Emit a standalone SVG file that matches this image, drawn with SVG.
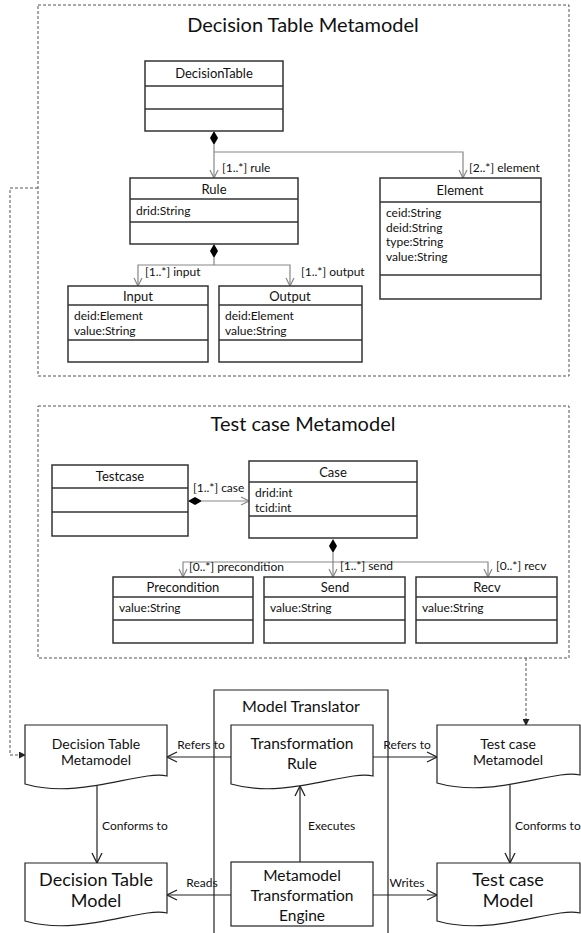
<svg xmlns="http://www.w3.org/2000/svg" width="581" height="933" viewBox="0 0 581 933">
<style>
text{font-family:Lato,"Noto Sans","Liberation Sans",sans-serif;fill:#111}
.frame{fill:none;stroke:#555;stroke-width:1;stroke-dasharray:3 2}
.title{font-size:20px;text-anchor:middle}
.cls{fill:#fff;stroke:#333;stroke-width:1.5}
.sep{stroke:#333;stroke-width:1.5}
.cn{font-size:13px;text-anchor:middle}
.at{font-size:12px}
.lb{font-size:12px}
.assoc{fill:none;stroke:#888;stroke-width:1.2}
.dia{fill:#000}
.doc{fill:#fff;stroke:#222;stroke-width:1.2}
.flow{fill:none;stroke:#222;stroke-width:1.2}
.dash{fill:none;stroke:#555;stroke-width:1;stroke-dasharray:3 2}
.mid{text-anchor:middle}
.d1{font-size:14px}
.d2{font-size:15.5px}
.d3{font-size:18px}
</style>
<defs>
<marker id="open" viewBox="0 0 10 10" refX="9" refY="5" markerWidth="10" markerHeight="10" orient="auto" markerUnits="userSpaceOnUse"><path d="M1,1 L9,5 L1,9" fill="none" stroke="#888" stroke-width="1.2"/></marker>
<marker id="openb" viewBox="0 0 12 12" refX="11" refY="6" markerWidth="12" markerHeight="12" orient="auto" markerUnits="userSpaceOnUse"><path d="M1,1 L11,6 L1,11" fill="none" stroke="#222" stroke-width="1.3"/></marker>
<marker id="solid" viewBox="0 0 8 8" refX="7" refY="4" markerWidth="7" markerHeight="7" orient="auto" markerUnits="userSpaceOnUse"><path d="M0,0 L8,4 L0,8 z" fill="#222"/></marker>
</defs>

<!-- Frames -->
<g id="frame-dt">
<rect class="frame" x="38" y="5" width="531" height="371"/>
<text class="title" x="303" y="32">Decision Table Metamodel</text>
</g>
<g id="frame-tc">
<rect class="frame" x="38" y="406" width="531" height="252"/>
<text class="title" x="303" y="431">Test case Metamodel</text>
</g>

<!-- Connectors -->
<g id="connectors">
<path class="assoc" d="M214,145 V178" marker-end="url(#open)"/>
<path class="assoc" d="M214,152 H463 V178" marker-end="url(#open)"/>
<path class="dia" d="M214,131 L218,138 L214,145 L210,138 z"/>
<text class="lb" x="222" y="172">[1..*] rule</text>
<text class="lb" x="469" y="172">[2..*] element</text>

<path class="assoc" d="M214,258 V265 H138 V286" marker-end="url(#open)"/>
<path class="assoc" d="M214,265 H290 V286" marker-end="url(#open)"/>
<path class="dia" d="M214,244 L218,251 L214,258 L210,251 z"/>
<text class="lb" x="145" y="276">[1..*] input</text>
<text class="lb" x="301" y="276">[1..*] output</text>

<path class="assoc" d="M202,501 H249" marker-end="url(#open)"/>
<path class="dia" d="M188,501 L195,497 L202,501 L195,505 z"/>
<text class="lb" x="193" y="492">[1..*] case</text>

<path class="assoc" d="M333,553 V562 H183 V577" marker-end="url(#open)"/>
<path class="assoc" d="M333,562 V577" marker-end="url(#open)"/>
<path class="assoc" d="M333,562 H488 V577" marker-end="url(#open)"/>
<path class="dia" d="M333,539 L337,546 L333,553 L329,546 z"/>
<text class="lb" x="189" y="571">[0..*] precondition</text>
<text class="lb" x="340" y="570">[1..*] send</text>
<text class="lb" x="496" y="570">[0..*] recv</text>

<path class="dash" d="M38,188 H10 V755 H25" marker-end="url(#solid)"/>
<path class="dash" d="M526,658 V725" marker-end="url(#solid)"/>

<path class="flow" d="M231,757 H167" marker-end="url(#openb)"/>
<text class="lb mid" x="201" y="749">Refers to</text>
<path class="flow" d="M373,757 H437" marker-end="url(#openb)"/>
<text class="lb mid" x="407" y="749">Refers to</text>
<path class="flow" d="M300,862 V786" marker-end="url(#openb)"/>
<text class="lb" x="308" y="830">Executes</text>
<path class="flow" d="M97,786 V863" marker-end="url(#openb)"/>
<text class="lb" x="102" y="830">Conforms to</text>
<path class="flow" d="M510,781 V863" marker-end="url(#openb)"/>
<text class="lb" x="515" y="830">Conforms to</text>
<path class="flow" d="M231,895 H167" marker-end="url(#openb)"/>
<text class="lb mid" x="202" y="887">Reads</text>
<path class="flow" d="M373,895 H437" marker-end="url(#openb)"/>
<text class="lb mid" x="407" y="887">Writes</text>
</g>

<!-- Decision Table metamodel classes -->
<g id="DecisionTable">
<rect class="cls" x="145" y="61" width="138" height="70"/>
<line class="sep" x1="145" y1="86" x2="283" y2="86"/>
<line class="sep" x1="145" y1="109" x2="283" y2="109"/>
<text class="cn" x="214" y="78">DecisionTable</text>
</g>
<g id="Rule">
<rect class="cls" x="130" y="178" width="168" height="66"/>
<line class="sep" x1="130" y1="199" x2="298" y2="199"/>
<line class="sep" x1="130" y1="222" x2="298" y2="222"/>
<text class="cn" x="214" y="194">Rule</text>
<text class="at" x="136" y="215">drid:String</text>
</g>
<g id="Element">
<rect class="cls" x="380" y="178" width="161" height="121"/>
<line class="sep" x1="380" y1="202" x2="541" y2="202"/>
<line class="sep" x1="380" y1="275" x2="541" y2="275"/>
<text class="cn" x="460" y="195">Element</text>
<text class="at" x="386" y="217">ceid:String</text>
<text class="at" x="386" y="231.5">deid:String</text>
<text class="at" x="386" y="246">type:String</text>
<text class="at" x="386" y="260.5">value:String</text>
</g>
<g id="Input">
<rect class="cls" x="68" y="286" width="140" height="76"/>
<line class="sep" x1="68" y1="305" x2="208" y2="305"/>
<line class="sep" x1="68" y1="340" x2="208" y2="340"/>
<text class="cn" x="138" y="301">Input</text>
<text class="at" x="74" y="320">deid:Element</text>
<text class="at" x="74" y="334.5">value:String</text>
</g>
<g id="Output">
<rect class="cls" x="219" y="286" width="143" height="76"/>
<line class="sep" x1="219" y1="305" x2="362" y2="305"/>
<line class="sep" x1="219" y1="340" x2="362" y2="340"/>
<text class="cn" x="290" y="301">Output</text>
<text class="at" x="225" y="320">deid:Element</text>
<text class="at" x="225" y="334.5">value:String</text>
</g>

<!-- Test case metamodel classes -->
<g id="Testcase">
<rect class="cls" x="52" y="465" width="136" height="71"/>
<line class="sep" x1="52" y1="488" x2="188" y2="488"/>
<line class="sep" x1="52" y1="512" x2="188" y2="512"/>
<text class="cn" x="120" y="481">Testcase</text>
</g>
<g id="Case">
<rect class="cls" x="249" y="461" width="168" height="77"/>
<line class="sep" x1="249" y1="482" x2="417" y2="482"/>
<line class="sep" x1="249" y1="516" x2="417" y2="516"/>
<text class="cn" x="333" y="477">Case</text>
<text class="at" x="255" y="497">drid:int</text>
<text class="at" x="255" y="511.5">tcid:int</text>
</g>
<g id="Precondition">
<rect class="cls" x="113" y="577" width="140" height="66"/>
<line class="sep" x1="113" y1="597" x2="253" y2="597"/>
<line class="sep" x1="113" y1="620" x2="253" y2="620"/>
<text class="cn" x="183" y="592">Precondition</text>
<text class="at" x="119" y="612">value:String</text>
</g>
<g id="Send">
<rect class="cls" x="264" y="577" width="141" height="66"/>
<line class="sep" x1="264" y1="597" x2="405" y2="597"/>
<line class="sep" x1="264" y1="620" x2="405" y2="620"/>
<text class="cn" x="335" y="592">Send</text>
<text class="at" x="270" y="612">value:String</text>
</g>
<g id="Recv">
<rect class="cls" x="416" y="577" width="141" height="66"/>
<line class="sep" x1="416" y1="597" x2="557" y2="597"/>
<line class="sep" x1="416" y1="620" x2="557" y2="620"/>
<text class="cn" x="487" y="592">Recv</text>
<text class="at" x="422" y="612">value:String</text>
</g>

<!-- Bottom -->
<g id="ModelTranslator">
<path d="M214,945 V690 H388 V945" fill="none" stroke="#222" stroke-width="1.2"/>
<text class="mid" x="301" y="712" style="font-size:16px">Model Translator</text>
</g>
<g id="TransformationRule">
<path class="doc" d="M231,725 H373 V776 C346,770 286,800 231,784 z"/>
<text class="mid d2" x="302" y="749">Transformation</text>
<text class="mid d2" x="302" y="769">Rule</text>
</g>
<g id="Engine">
<rect class="doc" x="231" y="862" width="142" height="64"/>
<text class="mid d2" x="302" y="881">Metamodel</text>
<text class="mid d2" x="302" y="901">Transformation</text>
<text class="mid d2" x="302" y="921">Engine</text>
</g>
<g id="DTMetamodel">
<path class="doc" d="M25,725 H167 V776 C140,770 80,800 25,784 z"/>
<text class="mid d1" x="96" y="749">Decision Table</text>
<text class="mid d1" x="96" y="765">Metamodel</text>
</g>
<g id="TCMetamodel">
<path class="doc" d="M437,725 H580 V775 C553,769 493,799 437,783 z"/>
<text class="mid d1" x="508" y="749">Test case</text>
<text class="mid d1" x="508" y="765">Metamodel</text>
</g>
<g id="DTModel">
<path class="doc" d="M25,863 H167 V913 C140,907 80,937 25,921 z"/>
<text class="mid d3" x="96" y="886">Decision Table</text>
<text class="mid d3" x="96" y="907">Model</text>
</g>
<g id="TCModel">
<path class="doc" d="M437,863 H580 V913 C553,907 493,937 437,921 z"/>
<text class="mid d3" x="508" y="886">Test case</text>
<text class="mid d3" x="508" y="907">Model</text>
</g>
</svg>
